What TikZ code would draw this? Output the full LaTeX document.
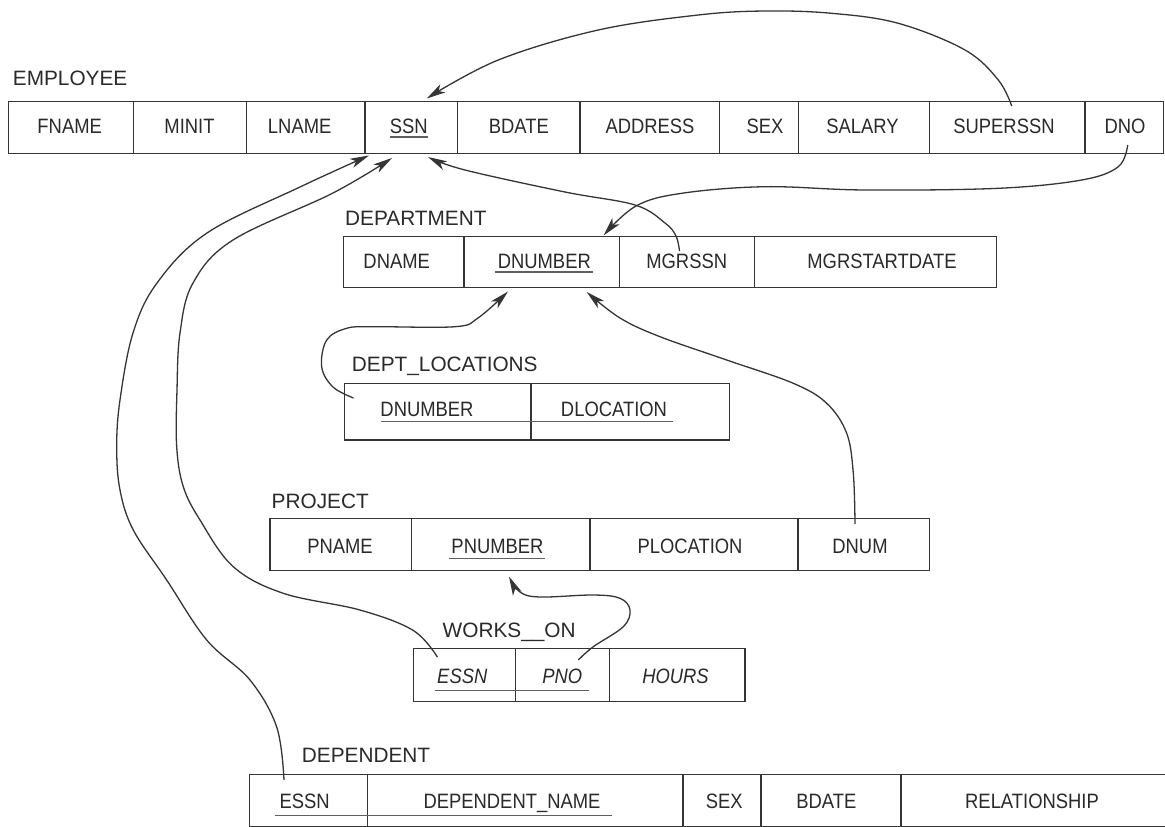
\documentclass[tikz,border=0pt]{standalone}
\usepackage{fontspec}
\setmainfont{Liberation Sans}
\newfontfamily\cellfont{Liberation Sans}[FakeStretch=0.885]
\usetikzlibrary{arrows.meta}
\definecolor{ink}{HTML}{2A2A2A}
\definecolor{lineink}{HTML}{353535}
\tikzset{
  lbl/.style={anchor=base west, inner sep=0pt, text=ink, font=\fontsize{20.8}{24}\selectfont},
  att/.style={anchor=base, inner sep=0pt, text=ink, font=\fontsize{20.8}{24}\selectfont\cellfont},
  iatt/.style={att, font=\fontsize{20.8}{24}\selectfont\cellfont\itshape},
  tbl/.style={draw=lineink, line width=1.4pt},
  ul/.style={draw=ink!75, line width=1.2pt},
  fk/.style={draw=lineink, line width=1.3pt, -{Stealth[length=19pt,width=9.5pt,inset=5pt]}}
}
\begin{document}
\begin{tikzpicture}[x=1pt,y=-1pt]
\useasboundingbox[fill=white] (0,0) rectangle (1165,827);

% ---------------- EMPLOYEE ----------------
\node[lbl] (lemp) at (12.7,85) {EMPLOYEE};
\draw[tbl] (8.3,101.5) rectangle (1163.3,153.7);
\foreach \x in {133.3,246.7,365,457.7,580,719.3,798.3,929.3,1085}
  \draw[tbl] (\x,101.5) -- (\x,153.7);
\node[att] (efname) at (69.7,133.3) {FNAME};
\node[att] (eminit) at (189.5,133.3) {MINIT};
\node[att] (elname) at (299.7,133.3) {LNAME};
\node[att] (essn) at (408.8,133.3) {SSN};
\node[att] (ebdate) at (518.8,133.3) {BDATE};
\node[att] (eaddr) at (650,133.3) {ADDRESS};
\node[att] (esex) at (765,133.3) {SEX};
\node[att] (esal) at (862.5,133.3) {SALARY};
\node[att] (esup) at (1004,133.3) {SUPERSSN};
\node[att] (edno) at (1125,133.3) {DNO};
\draw[ul] (390,137) -- (427.7,137);

% ---------------- DEPARTMENT ----------------
\node[lbl] (ldep) at (345,225) {DEPARTMENT};
\draw[tbl] (343.4,236.7) rectangle (996.7,287.3);
\foreach \x in {464,619.5,754.3}
  \draw[tbl] (\x,236.7) -- (\x,287.3);
\node[att] (ddname) at (396.7,268.3) {DNAME};
\node[att] (ddnum) at (544.3,268.3) {DNUMBER};
\node[att] (dmgr) at (686.7,268.3) {MGRSSN};
\node[att] (dmsd) at (882,268.3) {MGRSTARTDATE};
\draw[ul] (495,272) -- (593,272);

% ---------------- DEPT_LOCATIONS ----------------
\node[lbl] (ldl) at (351.7,371.7) {DEPT\_LOCATIONS};
\draw[tbl] (344.3,383.3) rectangle (729.5,440);
\draw[tbl] (531,383.3) -- (531,440);
\node[att] (lnum) at (427,416.7) {DNUMBER};
\node[att] (lloc) at (614,416.7) {DLOCATION};
\draw[ul] (381,421.7) -- (673,421.7);

% ---------------- PROJECT ----------------
\node[lbl] (lproj) at (271.5,508.5) {PROJECT};
\draw[tbl] (270,518.3) rectangle (929.3,570.5);
\foreach \x in {411.5,590,797.8}
  \draw[tbl] (\x,518.3) -- (\x,570.5);
\node[att] (ppname) at (340,553.3) {PNAME};
\node[att] (ppnum) at (497.5,553.3) {PNUMBER};
\node[att] (pploc) at (690,553.3) {PLOCATION};
\node[att] (pdnum) at (860,553.3) {DNUM};
\draw[ul] (449,558.3) -- (545,558.3);

% ---------------- WORKS_ON ----------------
\node[lbl] (lwo) at (442.5,637) {WORKS\_\_ON};
\draw[tbl] (413.5,648.3) rectangle (745,701.7);
\foreach \x in {515.3,609.3}
  \draw[tbl] (\x,648.3) -- (\x,701.7);
\node[iatt] (wessn) at (462.3,683.3) {ESSN};
\node[iatt] (wpno) at (562.2,683.3) {PNO};
\node[iatt] (whours) at (675.5,683.3) {HOURS};
\draw[ul] (435,690.3) -- (589,690.3);

% ---------------- DEPENDENT ----------------
\node[lbl] (ldpt) at (301.7,762) {DEPENDENT};
\draw[tbl] (1175,774.7) -- (249.5,774.7) -- (249.5,826.3) -- (1175,826.3);
\foreach \x in {367.5,683,761,901}
  \draw[tbl] (\x,774.7) -- (\x,826.3);
\node[att] (tessn) at (304.7,808.3) {ESSN};
\node[att] (tname) at (512,808.3) {DEPENDENT\_NAME};
\node[att] (tsex) at (724.3,808.3) {SEX};
\node[att] (tbdate) at (826.3,808.3) {BDATE};
\node[att] (trel) at (1032,808.3) {RELATIONSHIP};
\draw[ul] (275,815.5) -- (612,815.5);

% ---------------- connector end points ----------------
\coordinate (supS) at (1011.7,106);
\coordinate (ssnT) at (426.7,98.5);
\coordinate (dnoS) at (1127.7,145);
\coordinate (dnumT) at (603.5,235.5);
\coordinate (mgrS) at (679.5,251);
\coordinate (ssnB3) at (428,157);
\coordinate (dlS) at (353.5,398);
\coordinate (dnumB1) at (508,291.5);
\coordinate (pdS) at (855,524);
\coordinate (dnumB2) at (586.7,292);
\coordinate (pnoS) at (578.3,660);
\coordinate (pnumB) at (509,576.5);
\coordinate (woS) at (437.4,657);
\coordinate (ssnB2) at (392,158);
\coordinate (depS) at (284,780);
\coordinate (ssnB1) at (369,155.5);

% ---------------- connectors ----------------
\draw[fk] plot[smooth, tension=0.6] coordinates {(supS) (998.3,80) (965,50) (898.3,23.3) (831.7,13.3) (765,11) (698.3,15) (598.3,30) (498.3,60) (ssnT)};
\draw[fk] plot[smooth, tension=0.6] coordinates {(dnoS) (1118.3,166.7) (1081.7,180) (998.3,188.3) (865,190) (765,186.7) (681.7,193.3) (636,206) (dnumT)};
\draw[fk] plot[smooth, tension=0.6] coordinates {(mgrS) (676,236) (665,223) (635,205) (565,192) (465,170) (ssnB3)};
\draw[fk] plot[smooth, tension=0.6] coordinates {(dlS) (333,387) (321.7,367) (326.7,340) (346.7,328.3) (373,326.7) (455,326.7) (478,318) (dnumB1)};
\draw[fk] plot[smooth, tension=0.6] coordinates {(pdS) (853.3,473.3) (846.7,433.3) (826.7,403.3) (793.3,383.3) (726.7,360) (660,336.7) (620,318) (dnumB2)};
\draw[fk] plot[smooth, tension=0.6] coordinates {(pnoS) (593.3,646.7) (623.3,626.7) (630,610) (620,598.3) (593.3,595) (540,597) (520,592) (pnumB)};
\draw[fk] plot[smooth, tension=0.6] coordinates {(woS) (413,630.3) (360,610) (283.3,593.3) (233.3,566.7) (200,520) (183.3,486.7) (176.7,446.7) (177,390) (180,333) (193,283) (233,240) (333,193) (ssnB2)};
\draw[fk] plot[smooth, tension=0.6] coordinates {(depS) (276.7,727) (250,680) (206.7,640) (166.7,580) (133.3,530) (120,490) (116.7,446.7) (120,400) (133,333) (157,283) (207,233) (300,187) (ssnB1)};
\end{tikzpicture}
\end{document}
